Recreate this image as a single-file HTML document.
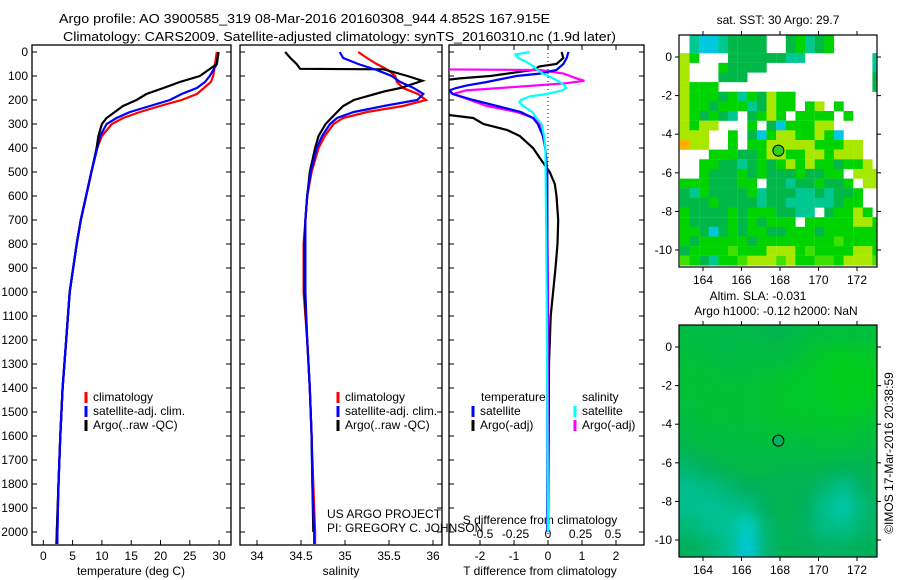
<!DOCTYPE html>
<html><head><meta charset="utf-8"><style>
html,body{margin:0;padding:0;background:#fff;}
svg{display:block;font-family:"Liberation Sans",sans-serif;}
text{fill:#000;}
</style></head><body>
<svg id="fig" width="900" height="580" viewBox="0 0 900 580" xmlns="http://www.w3.org/2000/svg">
<defs>
<clipPath id="c1"><rect x="32" y="45" width="199" height="500"/></clipPath>
<clipPath id="c2"><rect x="240" y="45" width="202" height="500"/></clipPath>
<clipPath id="c3"><rect x="449" y="45" width="195" height="500"/></clipPath>
<clipPath id="cm1"><rect x="679" y="35" width="198" height="232"/></clipPath>
<clipPath id="cm2"><rect x="679" y="325" width="198" height="232"/></clipPath>
<filter id="blur" x="-10%" y="-10%" width="120%" height="120%"><feGaussianBlur stdDeviation="6"/></filter>
</defs>
<text x="59" y="23" font-size="13" textLength="491" lengthAdjust="spacingAndGlyphs">Argo profile: AO 3900585_319 08-Mar-2016 20160308_944 4.852S 167.915E</text>
<text x="63" y="41" font-size="13" textLength="553" lengthAdjust="spacingAndGlyphs">Climatology: CARS2009. Satellite-adjusted climatology: synTS_20160310.nc (1.9d later)</text>
<g id="g1"></g>
<g id="g2"></g>
<g id="g3"></g>
<g id="gm1"></g>
<g id="gm2"></g>
<text x="778" y="24" font-size="12" text-anchor="middle">sat. SST: 30 Argo: 29.7</text>
<text x="758" y="300" font-size="12" text-anchor="middle">Altim. SLA: -0.031</text>
<text x="776" y="315" font-size="12" text-anchor="middle">Argo h1000: -0.12 h2000: NaN</text>
<text transform="translate(893,453) rotate(-90)" font-size="12" text-anchor="middle">©IMOS 17-Mar-2016 20:38:59</text>
<text x="327" y="518" font-size="12">US ARGO PROJECT</text>
<text x="327" y="532" font-size="12">PI: GREGORY C. JOHNSON</text>
</svg>
<script>
// ---------- data ----------
const depths = [0,50,100,125,150,175,200,225,250,275,300,350,400,500,600,700,800,900,1000,1200,1400,1600,1800,2000,2050];
const tempClim = [29.6,29.3,29.0,28.6,27.4,26.2,23.6,19.9,16.5,13.6,11.7,10.0,9.2,8.2,7.3,6.4,5.7,5.1,4.5,3.9,3.3,2.9,2.6,2.3,2.2];
const tempSat = [29.9,29.6,28.4,27.6,26.2,23.6,21.6,18.2,14.8,12.5,10.8,9.7,9.2,8.2,7.3,6.4,5.7,5.1,4.5,3.9,3.3,2.9,2.6,2.4,2.4];
const tempArgo = [29.9,29.6,26.7,23.3,20.5,17.6,15.9,13.6,12.2,10.8,10.0,9.4,9.1,8.2,7.3,6.4,5.7,5.1,4.5,3.9,3.3,2.9,2.6,2.3,2.3];
const salDepths = [0,25,50,75,100,125,150,175,200,225,250,275,300,350,400,500,600,700,800,1000,1200,1400,1600,1800,2000,2050];
const salClim = [35.15,35.25,35.36,35.49,35.57,35.59,35.66,35.83,35.92,35.66,35.25,34.98,34.87,34.77,34.70,34.62,34.57,34.55,34.53,34.53,34.57,34.60,34.62,34.64,34.66,34.66];
const salSat = [34.94,34.98,35.15,35.36,35.53,35.63,35.78,35.89,35.82,35.44,35.10,34.91,34.83,34.74,34.68,34.61,34.57,34.55,34.55,34.55,34.57,34.60,34.62,34.63,34.65,34.65];
const argoSalDepths = [0,25,50,70,72,100,120,150,165,200,225,250,300,350,400,500,600,700,800,1000,1200,1400,1600,1800,2000];
const salArgo = [34.32,34.38,34.45,34.49,35.44,35.71,35.88,35.63,35.44,35.10,34.98,34.91,34.78,34.70,34.66,34.60,34.57,34.55,34.54,34.54,34.57,34.60,34.62,34.63,34.64];
const dTArgoDepths = [0,25,50,60,75,100,110,125,263,275,300,325,350,400,450,500,550,600,700,800,900,1000,1100,1300,1600,2000];
const dTArgo = [0.4,0.45,0.25,-0.25,-0.44,-1.7,-2.6,-3.5,-2.9,-2.2,-1.9,-1.2,-0.83,-0.44,-0.2,0.05,0.2,0.25,0.3,0.28,0.22,0.15,0.08,0.03,0.02,0.0];
const dTSatDepths = [0,25,50,75,90,100,125,140,150,160,175,200,225,250,275,300,350,400,500,1000,2000];
const dTSat = [0.6,0.55,0.45,0.25,-0.25,-0.93,-1.8,-2.4,-2.7,-2.9,-2.8,-2.2,-1.5,-0.8,-0.44,-0.3,-0.15,-0.08,-0.02,-0.02,-0.02];
const dSArgoDepths = [72,75,90,110,120,130,140,150,160,175,200,225,250,275,300,350,400,500,1000,2000];
const dSArgo = [-0.9,-0.06,0.12,0.22,0.28,0.14,-0.11,-0.37,-0.63,-0.73,-0.6,-0.47,-0.24,-0.11,-0.06,-0.04,-0.02,-0.01,0.0,0.0];
const dSSatDepths = [0,10,25,40,60,75,90,110,125,140,150,160,175,185,200,210,225,250,275,300,350,400,1000,2000];
const dSSat = [-0.14,-0.25,-0.23,-0.17,-0.11,-0.08,-0.04,0.04,0.09,0.13,0.14,0.11,-0.01,-0.14,-0.21,-0.22,-0.19,-0.12,-0.09,-0.05,-0.03,-0.02,-0.01,0.0];
const depthTicks = [0,100,200,300,400,500,600,700,800,900,1000,1100,1200,1300,1400,1500,1600,1700,1800,1900,2000];
const tempTicks = [0,5,10,15,20,25,30];
const salTicks = [34,34.5,35,35.5,36];
const dTTicks = [-2,-1,0,1,2];
const dSTicks = [-0.5,-0.25,0,0.25,0.5];
const lonTicks = [164,166,168,170,172];
const latTicks = [0,-2,-4,-6,-8,-10];
const argoLon = 167.915, argoLat = -4.852;
// SST map grid (0.5 deg cells, from lat 1.2 downward, lon 162.8 eastward)
const sstRows = [
".tcctdddd..dgtdg.....",
".tcctdddd..dgtdg.....",
"yg...ddddddtt.......t",
"y...gdddd...........t",
"y...ddd.............d",
"yggg................d",
"ygggdgtgdygg.........",
"yggdgggtdygg.gy.g....",
"ygdgdt.dgyg.gggg.g...",
"ygyy...g.dcgggyy.....",
"yyy..g.dcgyyggygc....",
"oyy..g.ggyyyyygggyy..",
"...gggddgyyggyygyyy..",
"..ggddtdgdgygyggdggy.",
"..gdddgdgdddgddgg.yyy",
"gggdddgg.ddtddgddg.yy",
"dtgddddgtdddttdtddg..",
"dddgddddtddtttttdgg..",
"gddddgdgggddtt.dggyg.",
"gddddgdgdggg.gggggyyg",
"ggdcdgdggddgggdgggggg",
"gdgggggdgggggggglgggg",
"dgggglgggyyyglggggyyg",
"lgdtgglyyylyggllgyyyl"];
const sstColors = {t:"#00c890",c:"#00c8e0",d:"#00b848",g:"#00d400",y:"#a8e800",l:"#40e000",o:"#ffb000"};
// SLA map grid (1 deg cells, 0=green .. 1=teal .. 2=cyan .. 3=blue)
const slaGrid = [
[0.6,0.6,0.7,0.7,0.8,0.8,0.6,0.5,0.5,0.5,0.5],
[0.5,0.6,0.7,0.6,0.6,0.6,0.4,0.2,0.1,0.2,0.3],
[0.4,0.4,0.5,0.5,0.4,0.3,0.2,0.1,0.0,0.0,0.1],
[0.4,0.4,0.4,0.4,0.3,0.2,0.2,0.1,0.0,0.0,0.1],
[0.5,0.4,0.4,0.4,0.3,0.2,0.2,0.2,0.1,0.2,0.3],
[0.6,0.5,0.5,0.5,0.4,0.4,0.3,0.3,0.3,0.4,0.5],
[0.8,0.7,0.6,0.6,0.6,0.6,0.6,0.5,0.5,0.6,0.7],
[1.2,1.0,0.8,0.7,0.7,0.8,0.8,0.8,0.9,0.9,0.8],
[1.5,1.4,1.2,1.0,0.9,0.9,0.9,1.2,1.5,1.1,0.8],
[1.5,1.6,1.5,1.4,1.0,0.8,1.0,1.5,1.8,1.3,0.9],
[1.3,1.5,1.6,2.0,1.2,0.9,1.1,1.4,1.5,1.2,0.9],
[1.0,1.2,1.5,2.4,1.2,0.9,1.0,1.1,1.1,1.0,0.9]];

// ---------- scales ----------
const NS="http://www.w3.org/2000/svg";
const yD = d => 52 + d*0.24;
const xT = t => 43.3 + t*5.86;
const xS = s => 257 + (s-34)*88;
const xDT = v => 548 + v*34;
const xDS = v => 548 + v*130;
const mxLon = lon => 703 + (lon-164)*19.25;
const myLat1 = lat => 57 - lat*19.3;
const myLat2 = lat => 347 - lat*19.3;
function mk(tag, attrs, parent){const e=document.createElementNS(NS,tag);for(const k in attrs)e.setAttribute(k,attrs[k]);parent.appendChild(e);return e;}
function txt(parent,x,y,s,anchor,size){const e=mk('text',{x:x,y:y,'font-size':size||12,'text-anchor':anchor||'start','dominant-baseline':'central'},parent);e.textContent=s;return e;}

function profile(parent, clip, xs, ds, vals, color, name){
  const pts = ds.map((d,i)=>xs(vals[i]).toFixed(1)+','+yD(d).toFixed(1)).join(' ');
  const p = mk('polyline',{points:pts,fill:'none',stroke:color,'stroke-width':2.2,'clip-path':'url(#'+clip+')'},parent);
  
  
}
function frame(parent,x0,x1,name){
  const r = mk('rect',{x:x0,y:45,width:x1-x0,height:500,fill:'none',stroke:'#000','stroke-width':1.3},parent);
  
  
  depthTicks.forEach(d=>{
    mk('line',{x1:x0,x2:x0+5,y1:yD(d),y2:yD(d),stroke:'#000'},parent);
    mk('line',{x1:x1-5,x2:x1,y1:yD(d),y2:yD(d),stroke:'#000'},parent);
  });
}
function legendEntry(parent,x,y,color,label,name){
  const g = mk('g',{},parent);
  
  
  mk('line',{x1:x,x2:x,y1:y-5,y2:y+6,stroke:color,'stroke-width':3},g);
  txt(g,x+7,y,label);
}

// Panel 1: temperature
const g1=document.getElementById('g1');
frame(g1,32,231,'temperature-plot-frame');
depthTicks.forEach(d=>{const t=txt(g1,28,yD(d),String(d),'end');
  
  });
tempTicks.forEach(v=>{mk('line',{x1:xT(v),x2:xT(v),y1:545,y2:540,stroke:'#000'},g1);
  const t=txt(g1,xT(v),556,String(v),'middle');
  
  });
const xl1=txt(g1,131,571,'temperature (deg C)','middle');


profile(g1,'c1',xT,depths,tempClim,'#ff0000','temp-climatology-line');
profile(g1,'c1',xT,depths,tempSat,'#0000ff','temp-satellite-line');
profile(g1,'c1',xT,depths,tempArgo,'#000000','temp-argo-line');
profile(g1,'c1',xT,depths.slice(12),tempSat.slice(12),'#0000ff','temp-satellite-deep-line');
legendEntry(g1,86,397,'#ff0000','climatology','legend-climatology');
legendEntry(g1,86,411,'#0000ff','satellite-adj. clim.','legend-satellite-adj');
legendEntry(g1,86,425,'#000000','Argo(..raw -QC)','legend-argo');

// Panel 2: salinity
const g2=document.getElementById('g2');
frame(g2,240,442,'salinity-plot-frame');
salTicks.forEach(v=>{mk('line',{x1:xS(v),x2:xS(v),y1:545,y2:540,stroke:'#000'},g2);
  const t=txt(g2,xS(v),556,String(v),'middle');
  
  });
const xl2=txt(g2,341,571,'salinity','middle');


profile(g2,'c2',xS,salDepths,salClim,'#ff0000','sal-climatology-line');
profile(g2,'c2',xS,argoSalDepths,salArgo,'#000000','sal-argo-line');
profile(g2,'c2',xS,salDepths,salSat,'#0000ff','sal-satellite-line');
legendEntry(g2,338,397,'#ff0000','climatology','legend-climatology');
legendEntry(g2,338,411,'#0000ff','satellite-adj. clim.','legend-satellite-adj');
legendEntry(g2,338,425,'#000000','Argo(..raw -QC)','legend-argo');

// Panel 3: differences
const g3=document.getElementById('g3');
frame(g3,449,644,'difference-plot-frame');
dTTicks.forEach(v=>{mk('line',{x1:xDT(v),x2:xDT(v),y1:545,y2:540,stroke:'#000'},g3);
  mk('line',{x1:xDT(v),x2:xDT(v),y1:45,y2:50,stroke:'#000'},g3);
  const t=txt(g3,xDT(v),556,String(v),'middle');
  
  });
dSTicks.forEach(v=>{const t=txt(g3,xDS(v),534,String(v),'middle');
  
  });
const st=txt(g3,540,520,'S difference from climatology','middle');


const tt=txt(g3,540,571,'T difference from climatology','middle');


const zl=mk('line',{x1:xDT(0),x2:xDT(0),y1:45,y2:545,stroke:'#000','stroke-dasharray':'1,3'},g3);


profile(g3,'c3',xDT,dTArgoDepths,dTArgo,'#000000','t-diff-argo-line');
profile(g3,'c3',xDS,dSArgoDepths,dSArgo,'#ff00ff','s-diff-argo-line');
profile(g3,'c3',xDT,dTSatDepths,dTSat,'#0000ff','t-diff-satellite-line');
profile(g3,'c3',xDS,dSSatDepths,dSSat,'#00ffff','s-diff-satellite-line');
const lt=txt(g3,481,397,'temperature');


const ls=txt(g3,582,397,'salinity');


legendEntry(g3,473,411,'#0000ff','satellite','legend-t-satellite');
legendEntry(g3,473,425,'#000000','Argo(-adj)','legend-t-argo');
legendEntry(g3,575,411,'#00ffff','satellite','legend-s-satellite');
legendEntry(g3,575,425,'#ff00ff','Argo(-adj)','legend-s-argo');

// Maps
function mapAxes(parent, myLat, top){
  const r=mk('rect',{x:679,y:top,width:198,height:232,fill:'none',stroke:'#000','stroke-width':1.2},parent);
  
  
  lonTicks.forEach(l=>{
    mk('line',{x1:mxLon(l),x2:mxLon(l),y1:top,y2:top-4,stroke:'#000'},parent);
    mk('line',{x1:mxLon(l),x2:mxLon(l),y1:top+232,y2:top+236,stroke:'#000'},parent);
    const t=txt(parent,mxLon(l),top+245,String(l),'middle');
    
    
  });
  latTicks.forEach(l=>{
    mk('line',{x1:679,x2:675,y1:myLat(l),y2:myLat(l),stroke:'#000'},parent);
    mk('line',{x1:877,x2:881,y1:myLat(l),y2:myLat(l),stroke:'#000'},parent);
    const t=txt(parent,672,myLat(l),String(l),'end');
    
    
  });
}
const gm1=document.getElementById('gm1');
const cells1=mk('g',{'clip-path':'url(#cm1)'},gm1);
sstRows.forEach((row,r)=>{
  for(let c=0;c<row.length;c++){
    const ch=row[c]; if(ch==='.') continue;
    const lon=162.8+c*0.5, lat=1.2-r*0.5;
    const x=mxLon(lon), y=myLat1(lat);
    const cell=mk('rect',{x:x.toFixed(1),y:y.toFixed(1),width:9.8,height:9.8,fill:sstColors[ch]},cells1);
    
    
  }
});
mapAxes(gm1,myLat1,35);
const m1=mk('circle',{cx:mxLon(argoLon),cy:myLat1(argoLat),r:5.5,fill:'#30d020',stroke:'#000','stroke-width':1},gm1);



function slaColor(v){
  let a,b,t;
  const c0=[0,205,30],c1=[0,176,90],c2=[0,205,190],c3=[0,190,245];
  if(v<=1){a=c0;b=c1;t=v;} else if(v<=2){a=c1;b=c2;t=v-1;} else {a=c2;b=c3;t=Math.min(1,v-2);}
  return 'rgb('+a.map((x,i)=>Math.round(x+(b[i]-x)*t)).join(',')+')';
}
const gm2=document.getElementById('gm2');
const outer2=mk('g',{'clip-path':'url(#cm2)'},gm2);
mk('rect',{x:679,y:325,width:198,height:232,fill:slaColor(0.7)},outer2);
const cells2=mk('g',{filter:'url(#blur)'},outer2);
slaGrid.forEach((row,r)=>{
  row.forEach((v,c)=>{
    const lon=162.8+c, lat=1.2-r;
    const x0=mxLon(lon)-(c===0?20:0), y0=myLat2(lat)-(r===0?20:0);
    const w=19.4+(c===0?20:0)+(c===row.length-1?20:0), h=19.4+(r===0?20:0)+(r===slaGrid.length-1?20:0);
    const cell=mk('rect',{x:x0.toFixed(1),y:y0.toFixed(1),width:w,height:h,fill:slaColor(v)},cells2);
    
    
  });
});
mapAxes(gm2,myLat2,325);
const m2=mk('circle',{cx:mxLon(argoLon),cy:myLat2(argoLat),r:5.5,fill:'#00b060',stroke:'#000','stroke-width':1},gm2);


</script>
</body></html>
